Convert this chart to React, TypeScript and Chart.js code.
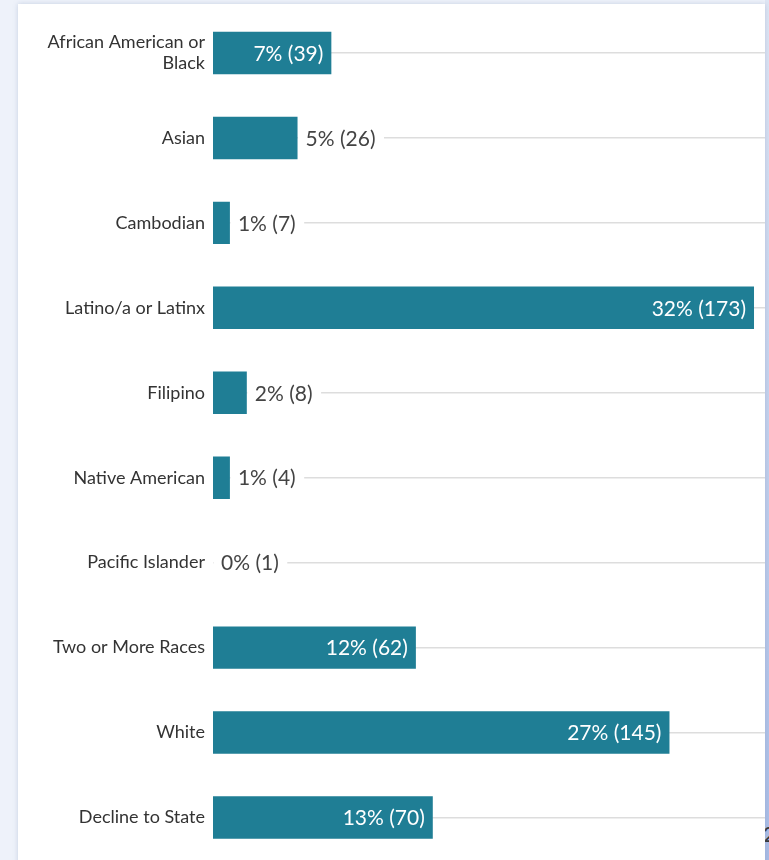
import React, { useEffect, useRef } from "react";
import { Chart, registerables } from "chart.js";

Chart.register(...registerables);

const categories: (string | string[])[] = [
  ["African American or", "Black"],
  "Asian",
  "Cambodian",
  "Latino/a or Latinx",
  "Filipino",
  "Native American",
  "Pacific Islander",
  "Two or More Races",
  "White",
  "Decline to State",
];
const percents = [7, 5, 1, 32, 2, 1, 0, 12, 27, 13];
const counts = [39, 26, 7, 173, 8, 4, 1, 62, 145, 70];
const valueLabels = percents.map((p, i) => `${p}% (${counts[i]})`);

const BAR_COLOR = "#1f7e95";
const FONT = "Lato, 'Noto Sans', sans-serif";

const valueLabelPlugin = {
  id: "valueLabels",
  afterDatasetsDraw(chart: any) {
    const ctx = chart.ctx;
    const meta = chart.getDatasetMeta(0);
    ctx.save();
    ctx.font = `21px ${FONT}`;
    ctx.textBaseline = "middle";
    meta.data.forEach((bar: any, i: number) => {
      const text = valueLabels[i];
      const w = ctx.measureText(text).width;
      const left = bar.base;
      const right = bar.x;
      const pad = 8;
      const y = bar.y;
      if (right - left > w + 30) {
        ctx.fillStyle = "#ffffff";
        ctx.textAlign = "right";
        ctx.fillText(text, right - pad, y + 1);
      } else {
        ctx.fillStyle = "#ffffff";
        ctx.fillRect(right + 0.5, y - 13, w + pad * 2, 26);
        ctx.fillStyle = "#444444";
        ctx.textAlign = "left";
        ctx.fillText(text, right + pad, y + 1);
      }
    });
    ctx.restore();
  },
};

export default function App() {
  const ref = useRef<HTMLCanvasElement | null>(null);
  useEffect(() => {
    if (!ref.current) return;
    const chart = new Chart(ref.current, {
      type: "bar",
      data: {
        labels: categories,
        datasets: [
          {
            data: percents,
            backgroundColor: BAR_COLOR,
            borderWidth: 0,
            categoryPercentage: 1,
            barPercentage: 0.5,
          },
        ],
      },
      options: {
        indexAxis: "y",
        animation: false,
        responsive: false,
        maintainAspectRatio: false,
        layout: { padding: { top: 6.5, bottom: -2, left: 0, right: 0 } },
        plugins: {
          legend: { display: false },
          tooltip: { enabled: false },
        },
        scales: {
          x: {
            min: 0,
            max: 32.65,
            display: false,
          },
          y: {
            grid: {
              offset: false,
              drawTicks: false,
              color: "#dddddd",
              lineWidth: 1.5,
            },
            border: { display: false },
            ticks: {
              padding: 8,
              color: "#333333",
              font: { family: FONT, size: 18, lineHeight: 1.15 },
            },
            afterFit(scale: any) {
              scale.width = 195;
              scale.paddingTop = 0;
              scale.paddingBottom = 0;
            },
          },
        },
      },
      plugins: [valueLabelPlugin],
    });
    return () => chart.destroy();
  }, []);

  return (
    <div
      style={{
        position: "fixed",
        inset: 0,
        background: "#eef2fa",
        overflow: "hidden",
      }}
    >
      <div
        style={{
          position: "absolute",
          left: 765,
          top: 0,
          width: 10,
          height: 860,
          background: "linear-gradient(#dfe6f4, #a8bce6)",
        }}
      />
      <div
        style={{
          position: "absolute",
          left: 763,
          top: 820,
          fontFamily: FONT,
          fontSize: 22,
          color: "#333",
        }}
      >
        2
      </div>
      <div
        style={{
          position: "absolute",
          left: 18,
          top: 4,
          width: 747,
          height: 900,
          background: "#ffffff",
          boxShadow: "0 0 5px rgba(120,140,180,0.35)",
        }}
      >
        <canvas ref={ref} width={747} height={856} style={{ display: "block" }} />
      </div>
    </div>
  );
}
